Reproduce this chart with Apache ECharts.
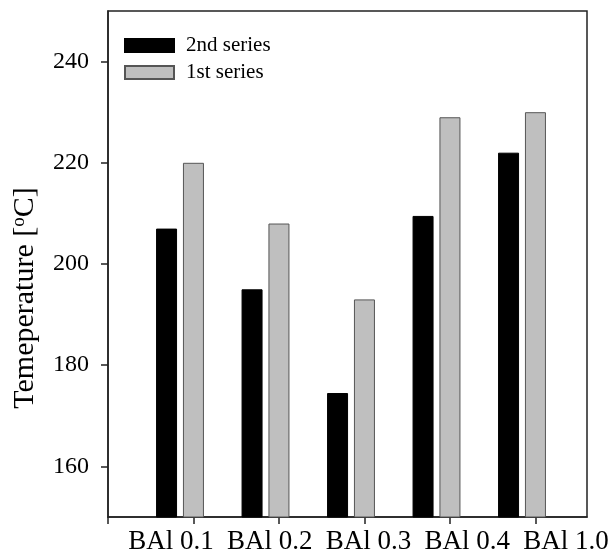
<!DOCTYPE html>
<html>
<head>
<meta charset="utf-8">
<script src="https://cdn.jsdelivr.net/npm/echarts@6/dist/echarts.min.js"></script>
<style>
  html, body { margin: 0; padding: 0; background: #fff; }
  #chart { width: 614px; height: 555px; }
</style>
</head>
<body>
<div id="chart"></div>
<script>
// categories and values
var categories = ['BAl 0.1', 'BAl 0.2', 'BAl 0.3', 'BAl 0.4', 'BAl 1.0'];
var secondSeries = [207, 195, 174.5, 209.5, 222];
var firstSeries = [220, 208, 193, 229, 230];
var yTicks = [160, 180, 200, 220, 240];
var xTicks = [0, 1, 2, 3, 4, 5];

var serif = 'Liberation Serif, Times New Roman, serif';
var axisColor = '#222';

var chart = echarts.init(document.getElementById('chart'), null, { renderer: 'canvas' });

var option = {
  backgroundColor: '#fff',
  animation: false,
  legend: {
    orient: 'vertical',
    left: 124,
    top: 35,
    padding: 0,
    itemWidth: 49,
    itemHeight: 13,
    itemGap: 6,
    icon: 'rect',
    data: ['2nd series', '1st series'],
    textStyle: {
      fontFamily: serif,
      fontSize: 21,
      color: '#000',
      padding: [0, 0, 0, 7]
    }
  },
  grid: [
    // bars
    { left: 137.25, right: 49.25, top: 11, bottom: 38 },
    // frame, ticks, y labels
    { left: 108, right: 27, top: 11, bottom: 38, show: true, borderColor: axisColor, borderWidth: 1.5, backgroundColor: 'transparent' },
    // x labels
    { left: 171, right: 48, top: 11, bottom: 38 }
  ],
  xAxis: [
    {
      gridIndex: 0,
      type: 'category',
      data: categories,
      axisLine: { show: false },
      axisTick: { show: false },
      axisLabel: { show: false },
      splitLine: { show: false }
    },
    {
      gridIndex: 1,
      type: 'value',
      min: 0,
      max: 5.6,
      interval: 1,
      axisLine: { show: true, lineStyle: { color: axisColor, width: 1.5 } },
      axisTick: { show: true, inside: false, length: 7, customValues: xTicks, lineStyle: { color: axisColor, width: 1.5 } },
      axisLabel: { show: false },
      splitLine: { show: false }
    },
    {
      gridIndex: 2,
      type: 'category',
      boundaryGap: false,
      data: categories,
      axisLine: { show: false },
      axisTick: { show: false },
      axisLabel: {
        show: true,
        interval: 0,
        margin: 16,
        fontFamily: serif,
        fontSize: 27,
        color: '#000'
      },
      splitLine: { show: false }
    }
  ],
  yAxis: [
    {
      gridIndex: 0,
      type: 'value',
      min: 150,
      max: 250,
      show: false,
      splitLine: { show: false }
    },
    {
      gridIndex: 1,
      type: 'value',
      min: 150,
      max: 250,
      name: 'Temeperature [{sup|o}C]',
      nameLocation: 'middle',
      nameRotate: 90,
      nameGap: 68,
      nameTextStyle: {
        fontFamily: serif,
        fontSize: 30,
        color: '#000',
        padding: [0, 68, 0, 0],
        rich: {
          sup: { fontFamily: serif, fontSize: 19, color: '#000', verticalAlign: 'top', padding: [0, 0, 11, 0] }
        }
      },
      axisLine: { show: true, lineStyle: { color: axisColor, width: 1.5 } },
      axisTick: { show: true, inside: false, length: 7, customValues: yTicks, lineStyle: { color: axisColor, width: 1.5 } },
      axisLabel: {
        show: true,
        customValues: yTicks,
        margin: 19,
        fontFamily: serif,
        fontSize: 24,
        color: '#000'
      },
      splitLine: { show: false }
    },
    {
      gridIndex: 2,
      type: 'value',
      min: 150,
      max: 250,
      show: false,
      splitLine: { show: false }
    }
  ],
  series: [
    {
      name: '2nd series',
      type: 'bar',
      xAxisIndex: 0,
      yAxisIndex: 0,
      barWidth: 21,
      barGap: '28%',
      itemStyle: { color: '#000', borderColor: '#000', borderWidth: 1 },
      data: secondSeries
    },
    {
      name: '1st series',
      type: 'bar',
      xAxisIndex: 0,
      yAxisIndex: 0,
      barWidth: 21,
      barGap: '28%',
      itemStyle: { color: '#bfbfbf', borderColor: '#555', borderWidth: 1 },
      data: firstSeries
    }
  ]
};

chart.setOption(option);
</script>
</body>
</html>
